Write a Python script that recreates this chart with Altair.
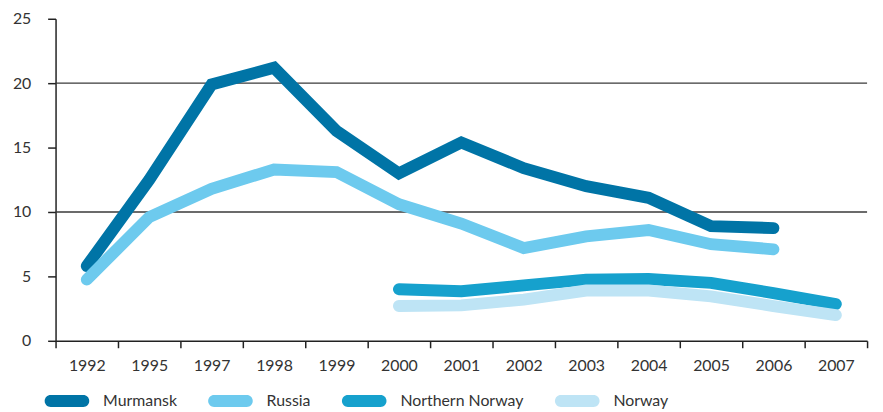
import altair as alt
import pandas as pd

years = ["1992", "1995", "1997", "1998", "1999", "2000", "2001",
         "2002", "2003", "2004", "2005", "2006", "2007"]
murmansk = [5.8, 12.5, 19.9, 21.2, 16.3, 13.0, 15.4, 13.4, 12.0, 11.1, 8.9, 8.75, None]
russia = [4.75, 9.6, 11.8, 13.3, 13.1, 10.6, 9.1, 7.2, 8.1, 8.6, 7.5, 7.1, None]
northern_norway = [None, None, None, None, None, 4.0, 3.85, 4.3, 4.75, 4.8, 4.5, 3.7, 2.85]
norway = [None, None, None, None, None, 2.7, 2.75, 3.2, 3.9, 3.9, 3.45, 2.7, 2.0]

series_names = ["Murmansk", "Russia", "Northern Norway", "Norway"]
series_values = [murmansk, russia, northern_norway, norway]
colors = ["#0074A6", "#6DCAEE", "#16A1CD", "#BEE4F5"]
y_ticks = [0, 5, 10, 15, 20, 25]
gridlines = [10, 20]

rows = []
for name, vals in zip(series_names, series_values):
    for i, (yr, v) in enumerate(zip(years, vals)):
        if v is not None:
            rows.append({"year": yr, "series": name, "value": v, "order": i})
df = pd.DataFrame(rows)
grid_df = pd.DataFrame({"v": gridlines})

FONT = "Lato"
TXT = "#333333"
PILL = ("M -0.7333 -0.2667 L 0.7333 -0.2667 A 0.2667 0.2667 0 0 1 0.7333 0.2667 "
        "L -0.7333 0.2667 A 0.2667 0.2667 0 0 1 -0.7333 -0.2667 Z")

x_enc = alt.X(
    "year:O",
    sort=years,
    scale=alt.Scale(type="band", domain=years, paddingInner=0, paddingOuter=0),
    bandPosition=0.5,
    axis=alt.Axis(
        title=None, labelAngle=0, tickBand="extent", tickSize=7,
        labelPadding=10, labelFontSize=16, labelFont=FONT, labelColor=TXT,
        domainColor="#222222", tickColor="#222222", domainWidth=1.5, tickWidth=1.5,
    ),
)
y_enc = alt.Y(
    "value:Q",
    scale=alt.Scale(domain=[0, 25], nice=False),
    axis=alt.Axis(
        title=None, values=y_ticks, grid=False, tickSize=8, labelPadding=17,
        labelFontSize=16, labelFont=FONT, labelColor=TXT,
        domainColor="#222222", tickColor="#222222", domainWidth=1.5, tickWidth=1.5,
    ),
)

rules = alt.Chart(grid_df).mark_rule(color="#3a3a3a", strokeWidth=1.3).encode(
    y=alt.Y("v:Q", scale=alt.Scale(domain=[0, 25], nice=False))
)

lines = alt.Chart(df).mark_line(
    strokeWidth=12, strokeCap="round", strokeJoin="miter"
).encode(
    x=x_enc,
    y=y_enc,
    order="order:Q",
    color=alt.Color("series:N", sort=series_names,
                    scale=alt.Scale(domain=series_names, range=colors), legend=None),
)

legend_pts = alt.Chart(df).mark_point(filled=True, opacity=0, size=1).encode(
    x=x_enc,
    y=y_enc,
    color=alt.Color(
        "series:N",
        sort=series_names,
        scale=alt.Scale(domain=series_names, range=colors),
        legend=alt.Legend(
            title=None, orient="none", direction="horizontal",
            legendX=-11, legendY=363,
            symbolType=PILL, symbolSize=2025, symbolOpacity=1,
            symbolStrokeWidth=0,
            labelFontSize=16, labelFont=FONT, labelColor=TXT,
            labelOffset=14, columnPadding=31, padding=0,
        ),
    ),
)

chart = alt.layer(rules, lines, legend_pts).resolve_scale(color="independent").properties(
    width=819, height=325,
    autosize=alt.AutoSizeParams(type="none"),
    padding={"left": 48, "top": 9, "right": 8, "bottom": 70},
).configure_view(stroke=None)

chart.save("out.html", embed_options={"renderer": "svg", "actions": False})
